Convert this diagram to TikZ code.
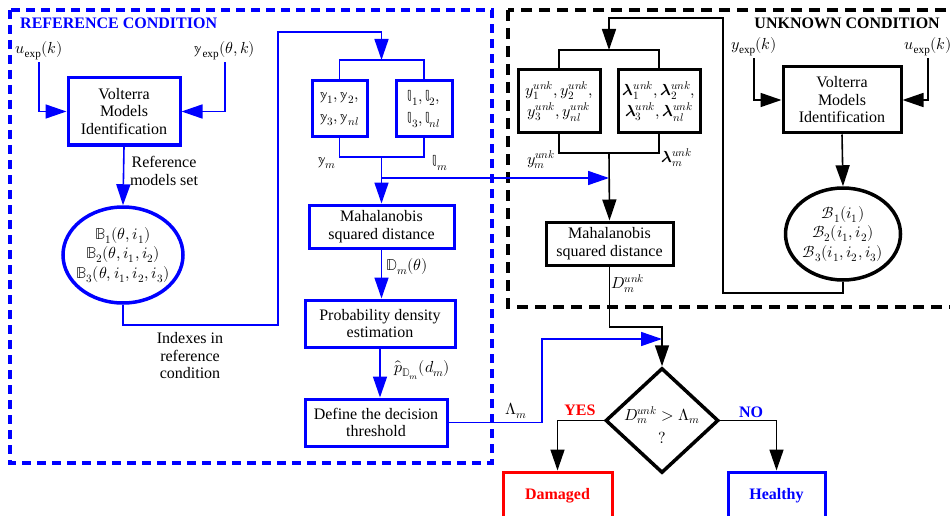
\documentclass[tikz,border=0pt]{standalone}
\usepackage{fontspec}
\usepackage{unicode-math}
\setmainfont{Liberation Serif}
\usetikzlibrary{arrows.meta,shapes.geometric}

\begin{document}
\begin{tikzpicture}[x=1pt,y=-1pt,
  font=\fontsize{16}{17.5}\selectfont,
  refbox/.style={draw=blue,line width=3pt,align=center,inner sep=1pt},
  unkbox/.style={refbox,draw=black},
  refell/.style={ellipse,draw=blue,line width=3.5pt,minimum width=120,minimum height=96,inner sep=0pt},
  unkell/.style={refell,draw=black,minimum width=115,minimum height=92},
  refline/.style={blue,line width=1.6pt},
  unkline/.style={black,line width=1.6pt},
  arr/.style={-{Triangle[length=21pt,width=14pt]}},
  lbl/.style={align=center,inner sep=2pt},
  bold/.style={font=\fontsize{16}{17.5}\selectfont\bfseries}]
\useasboundingbox (0,0) rectangle (950,516);
\clip (0,0) rectangle (950,516);

% frames
\draw[blue,line width=3.5pt,dash pattern=on 9pt off 6pt] (10,10) rectangle (492,463);
\draw[black,line width=3.5pt,dash pattern=on 11pt off 7pt] (508,10) rectangle (970,307);
\node[anchor=west,inner sep=0pt,blue,bold] (reftitle) at (20,23) {REFERENCE CONDITION};
\node[anchor=east,inner sep=0pt,bold] (unktitle) at (940,23) {UNKNOWN CONDITION};

% reference condition
\node[lbl] (uref) at (39,51) {$u_{\mathrm{exp}}(k)$};
\node[lbl] (yref) at (225,51) {$\mathbb{y}_{\mathrm{exp}}(\theta,k)$};
\node[refbox,minimum width=112,minimum height=67] (refvolt) at (124,111.5) {Volterra\\Models\\Identification};
\node[refell] (refset) at (123,255) {};
\node[lbl] (refsettxt) at (refset) {$\mathbb{B}_1(\theta,i_1)$\\[2pt]$\mathbb{B}_2(\theta,i_1,i_2)$\\[2pt]$\mathbb{B}_3(\theta,i_1,i_2,i_3)$};
\node[refbox,minimum width=55,minimum height=56] (ys) at (339.5,109) {$\mathbb{y}_1,\mathbb{y}_2,$\\[4pt]$\mathbb{y}_3,\mathbb{y}_{nl}$};
\node[refbox,minimum width=56,minimum height=56] (ls) at (424,109) {$\mathbb{l}_1,\mathbb{l}_2,$\\[4pt]$\mathbb{l}_3,\mathbb{l}_{nl}$};
\node[refbox,minimum width=145,minimum height=43] (refmaha) at (381.5,226.5) {Mahalanobis\\squared distance};
\node[refbox,minimum width=150,minimum height=47] (prob) at (380,323.5) {Probability density\\estimation};
\node[refbox,minimum width=142,minimum height=47] (thresh) at (376,422.5) {Define the decision\\threshold};

\coordinate (reffork) at (381.5,60);
\coordinate (refjoin) at (381.5,157);
\coordinate (cross) at (381.5,178);
\coordinate (idxcorner) at (278,325);
\coordinate (idxtop) at (278,32);
\coordinate (lamturn) at (542,339);

\draw[refline,arr] (uref.south) |- (refvolt.west);
\draw[refline,arr] (yref.south) |- (refvolt.east);
\draw[refline,arr] (refvolt.south) -- (refset.north);
\draw[refline,arr] (refset.south) |- (idxcorner) -- (idxtop) -| (reffork);
\draw[refline] (ys.north) |- (reffork) -| (ls.north);
\draw[refline] (ys.south) |- (refjoin) -| (ls.south);
\draw[refline,arr] (refjoin) -- (refmaha.north);
\draw[refline,arr] (refmaha.south) -- (refmaha.south |- prob.north);
\draw[refline,arr] (prob.south) -- (prob.south |- thresh.north);

\node[lbl] (reflbl) at (164,171) {Reference\\models set};
\node[lbl] (idxlbl) at (190,356) {Indexes in\\reference\\condition};
\node[lbl] (ymlbl) at (327,163) {$\mathbb{y}_m$};
\node[lbl] (lmlbl) at (440,163) {$\mathbb{l}_m$};
\node[lbl] (dmlbl) at (407,267) {$\mathbb{D}_m(\theta)$};
\node[lbl] (plbl) at (422,370) {$\hat{p}_{\mathbb{D}_m}(d_m)$};
\node[lbl] (lamlbl) at (516,411) {$\Lambda_m$};

% unknown condition
\node[lbl] (yexpu) at (754,47) {$y_{\mathrm{exp}}(k)$};
\node[lbl] (uexpu) at (928,47) {$u_{\mathrm{exp}}(k)$};
\node[unkbox,minimum width=118,minimum height=66] (unkvolt) at (842,100) {Volterra\\Models\\Identification};
\node[unkell] (unkset) at (843,234) {};
\node[lbl] (unksettxt) at (unkset) {$\mathcal{B}_1(i_1)$\\[2pt]$\mathcal{B}_2(i_1,i_2)$\\[2pt]$\mathcal{B}_3(i_1,i_2,i_3)$};
\node[unkbox,minimum width=82,minimum height=63] (yu) at (559,101.5) {$y_1^{unk},y_2^{unk},$\\[2pt]$y_3^{unk},y_{nl}^{unk}$};
\node[unkbox,minimum width=82,minimum height=63] (lu) at (659,101.5) {$\symbfit{\lambda}_1^{unk},\symbfit{\lambda}_2^{unk},$\\[2pt]$\symbfit{\lambda}_3^{unk},\symbfit{\lambda}_{nl}^{unk}$};
\node[unkbox,minimum width=127,minimum height=43] (unkmaha) at (609.5,243.5) {Mahalanobis\\squared distance};

\coordinate (unkfork) at (609,50);
\coordinate (unkjoin) at (609,153);
\coordinate (retturn) at (723,293);
\coordinate (rettop) at (723,18);
\coordinate (dturn) at (662,327);

\draw[unkline,arr] (yexpu.south) |- (unkvolt.west);
\draw[unkline,arr] (uexpu.south) |- (unkvolt.east);
\draw[unkline,arr] (unkvolt.south) -- (unkset.north);
\draw[unkline,arr] (unkset.south) |- (retturn) -- (rettop) -| (unkfork);
\draw[unkline] (yu.north) |- (unkfork) -| (lu.north);
\draw[unkline] (yu.south) |- (unkjoin) -| (lu.south);
\draw[unkline,arr] (unkjoin) -- (unkmaha.north);
\draw[refline,arr] (cross) -- (cross -| unkjoin);

\node[lbl] (yulbl) at (541,160) {$y_m^{unk}$};
\node[lbl] (lulbl) at (677,158) {$\symbfit{\lambda}_m^{unk}$};
\node[lbl] (dulbl) at (628,284) {$D_m^{unk}$};

% decision
\node[diamond,draw,line width=3.5pt,minimum width=113,minimum height=105,inner sep=0pt] (decide) at (662,420.5) {};
\node[lbl] (decidetxt) at (662,425) {$D_m^{unk}>\Lambda_m$\\[6pt]$?$};
\node[draw=red,line width=3pt,minimum width=109,minimum height=48,text=red,bold] (damaged) at (557.5,496) {Damaged};
\node[draw=blue,line width=3pt,minimum width=97,minimum height=48,text=blue,bold] (healthy) at (776.5,496) {Healthy};

\draw[unkline,arr] (unkmaha.south) |- (dturn) -- (decide.north);
\draw[refline,arr] (thresh.east) -| (lamturn) -- (lamturn -| decide.north);
\draw[unkline,arr] (decide.west) -| (damaged.north);
\draw[unkline,arr] (decide.east) -| (healthy.north);
\node[lbl,red,bold] (yeslbl) at (580,410) {YES};
\node[lbl,blue,bold] (nolbl) at (751,412) {NO};
\end{tikzpicture}
\end{document}
